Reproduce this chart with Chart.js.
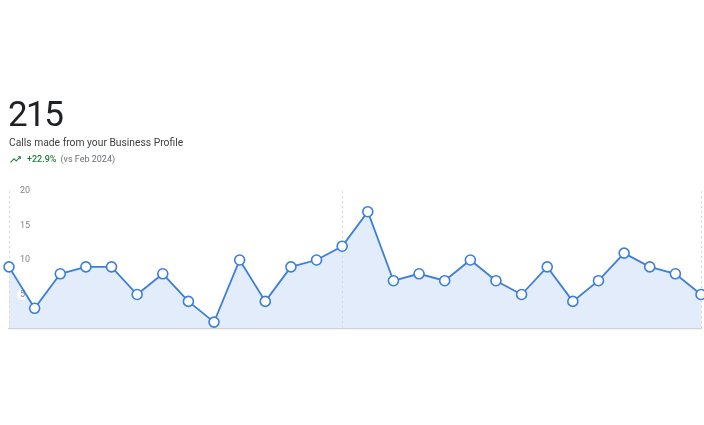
<!DOCTYPE html>
<html>
<head>
<meta charset="utf-8">
<script src="https://cdn.jsdelivr.net/npm/chart.js@4.4.1/dist/chart.umd.min.js"></script>
<style>
  html, body { margin: 0; padding: 0; background: #fff; }
  body { width: 704px; height: 425px; position: relative; overflow: hidden; font-family: Roboto, "Noto Sans", Arial, sans-serif; }
  #wrap { position: absolute; left: 0; top: 0; width: 704px; height: 425px; }
  .total { position: absolute; left: 8px; top: 95px; font-size: 35px; color: #202124; line-height: 40px; letter-spacing: -1.6px; }
  .caption { position: absolute; left: 9px; top: 136px; font-size: 10.3px; color: #3c4043; line-height: 14px; }
  .delta { position: absolute; left: 9px; top: 152px; font-size: 9px; line-height: 14px; color: #6b6f74; display: flex; align-items: center; }
  .delta svg { width: 13px; height: 13px; margin-right: 5px; }
  .delta .pct { color: #188038; font-weight: 500; margin-right: 4px; }
</style>
</head>
<body>
<div id="wrap"><canvas id="chart" width="704" height="425"></canvas></div>
<div class="total">215</div>
<div class="caption">Calls made from your Business Profile</div>
<div class="delta">
  <svg viewBox="0 0 24 24"><path fill="#188038" d="M16 6l2.29 2.29-4.88 4.88-4-4L2 16.59 3.41 18l6-6 4 4 6.3-6.29L22 12V6z"/></svg>
  <span class="pct">+22.9%</span><span>(vs Feb 2024)</span>
</div>
<script>
// Daily calls for March 2024
const days = ["Mar 1","Mar 2","Mar 3","Mar 4","Mar 5","Mar 6","Mar 7","Mar 8","Mar 9","Mar 10",
  "Mar 11","Mar 12","Mar 13","Mar 14","Mar 15","Mar 16","Mar 17","Mar 18","Mar 19","Mar 20",
  "Mar 21","Mar 22","Mar 23","Mar 24","Mar 25","Mar 26","Mar 27","Mar 28"];
const calls = [9,3,8,9,9,5,8,4,1,10,4,9,10,12,17,7,8,7,10,7,5,9,4,7,11,9,8,5];
const yTicks = [5,10,15,20];
const markedDays = [0,13,27];

// Y tick labels drawn inside the plot, each on a small white backdrop
const insideTicks = {
  id: 'insideTicks',
  beforeDatasetsDraw(chart) {
    const {ctx, scales: {y}, chartArea} = chart;
    ctx.save();
    ctx.font = '9px Roboto, Arial, sans-serif';
    ctx.textAlign = 'left';
    ctx.textBaseline = 'middle';
    yTicks.forEach(v => {
      const py = y.getPixelForValue(v);
      const px = chartArea.left + 11;
      const w = ctx.measureText(String(v)).width;
      ctx.fillStyle = 'rgba(255,255,255,0.85)';
      ctx.beginPath();
      ctx.arc(px + w / 2, py, Math.max(5.5, w / 2 + 3), 0, Math.PI * 2);
      ctx.fill();
      ctx.fillStyle = '#80868b';
      ctx.fillText(String(v), px, py);
    });
    ctx.restore();
  }
};

new Chart(document.getElementById('chart'), {
  type: 'line',
  data: {
    labels: days,
    datasets: [{
      data: calls,
      borderColor: '#3b7fd9',
      borderWidth: 1.8,
      backgroundColor: '#e3ecfb',
      fill: 'origin',
      tension: 0,
      pointRadius: 5,
      pointHoverRadius: 5,
      pointBackgroundColor: '#ffffff',
      pointBorderColor: '#3b7fd9',
      pointBorderWidth: 1.6,
      clip: false
    }]
  },
  options: {
    responsive: false,
    animation: false,
    layout: { autoPadding: false, padding: { left: 9, right: 3, top: 191, bottom: 96 } },
    plugins: {
      legend: { display: false },
      tooltip: { enabled: false },
      filler: { drawTime: 'beforeDraw' }
    },
    scales: {
      x: {
        offset: false,
        ticks: { display: false },
        grid: {
          drawTicks: false,
          color: c => markedDays.includes(c.index) ? '#d5d7db' : 'rgba(0,0,0,0)',
          lineWidth: 1
        },
        // border.dash styles the vertical grid lines; the baseline itself stays solid
        border: { display: true, color: '#cfd2d6', width: 1.2, dash: [2, 3] }
      },
      y: {
        display: false,
        min: 0,
        max: 20
      }
    }
  },
  plugins: [insideTicks]
});
</script>
</body>
</html>
